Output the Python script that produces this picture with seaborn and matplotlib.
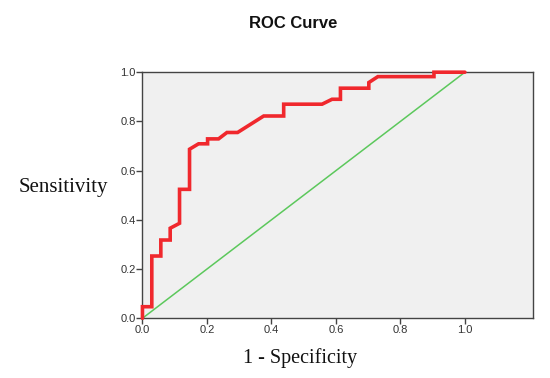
import matplotlib
matplotlib.use("Agg")
import matplotlib.pyplot as plt
import numpy as np
import pandas as pd
import seaborn as sns

# ROC points (1 - specificity, sensitivity)
fpr = [0.0, 0.0, 0.029, 0.029, 0.057, 0.057, 0.086, 0.086, 0.115, 0.115,
       0.146, 0.146, 0.174, 0.202, 0.202, 0.236, 0.262, 0.295, 0.376,
       0.438, 0.438, 0.557, 0.588, 0.614, 0.614, 0.702, 0.702, 0.730,
       0.904, 0.904, 1.0]
tpr = [0.0, 0.047, 0.047, 0.253, 0.253, 0.318, 0.318, 0.366, 0.386, 0.524,
       0.524, 0.687, 0.709, 0.709, 0.729, 0.729, 0.755, 0.755, 0.822,
       0.822, 0.870, 0.870, 0.890, 0.890, 0.935, 0.935, 0.958, 0.982,
       0.982, 1.0, 1.0]
ref_x = [0.0, 1.0]
ref_y = [0.0, 1.0]
ticks = [0.0, 0.2, 0.4, 0.6, 0.8, 1.0]


def main():
  sns.set_style("ticks")
  plt.rcParams['font.family'] = ['Liberation Sans', 'DejaVu Sans']

  fig = plt.figure(figsize=(5.5, 3.78), dpi=100)
  ax = fig.add_axes([0.259, 0.158, 0.710, 0.651])
  ax.set_facecolor('#f0f0f0')

  roc = pd.DataFrame({'fpr': fpr, 'tpr': tpr})
  ref = pd.DataFrame({'x': ref_x, 'y': ref_y})
  sns.lineplot(data=ref, x='x', y='y', ax=ax, color='#5cc85c', lw=1.1,
               sort=False, estimator=None)
  sns.lineplot(data=roc, x='fpr', y='tpr', ax=ax, color='#f0282d', lw=2.6,
               sort=False, estimator=None, solid_joinstyle='miter',
               clip_on=False, zorder=5)

  ax.set_xlim(0, 1.211)
  ax.set_ylim(0, 1.0)
  ax.set_xticks(ticks)
  ax.set_yticks(ticks)
  ax.set_xticklabels([f'{t:.1f}' for t in ticks])
  ax.set_yticklabels([f'{t:.1f}' for t in ticks])
  ax.tick_params(direction='out', length=4, width=1, labelsize=8,
                 color='#444444', labelcolor='#333333', pad=1)
  for s in ax.spines.values():
    s.set_visible(True)
    s.set_color('#444444')
    s.set_linewidth(1.0)

  ax.set_xlabel('')
  ax.set_ylabel('')
  fig.text(0.545, 0.053, '1 - Specificity', ha='center', va='center',
           family='Liberation Serif', fontsize=14.5, color='#111111')
  fig.text(0.115, 0.503, 'Sensitivity', ha='center', va='center',
           family='Liberation Serif', fontsize=15, color='#111111')
  fig.text(0.533, 0.937, 'ROC Curve', ha='center', va='center',
           fontsize=12, fontweight='bold', color='#111111')

  fig.savefig('out.png', dpi=100)
  plt.close(fig)


if __name__ == '__main__':
  main()
